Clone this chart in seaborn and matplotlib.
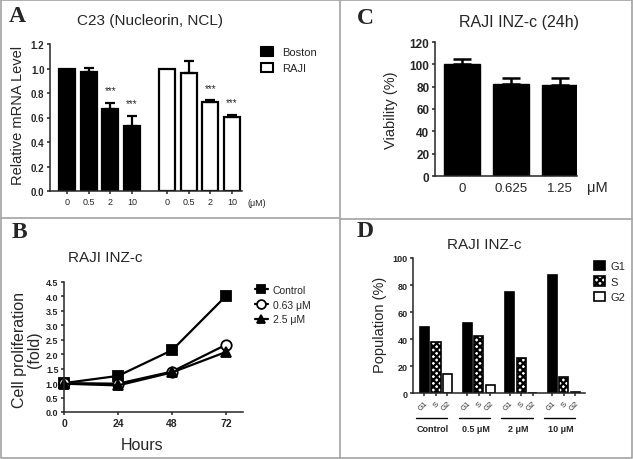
import matplotlib
matplotlib.use('Agg')
import matplotlib.pyplot as plt
import matplotlib.transforms as mtransforms
from matplotlib.lines import Line2D
from matplotlib.patches import Patch
import numpy as np
import pandas as pd
import seaborn as sns

# --- A: C23 relative mRNA ---
conc_a = ['0', '0.5', '2', '10']
cells_a = ['Boston', 'RAJI']
mrna_boston = [1.0, 0.97, 0.67, 0.53]
mrna_boston_err = [0.0, 0.038, 0.05, 0.082]
mrna_raji = [1.0, 0.965, 0.725, 0.605]
mrna_raji_err = [0.0, 0.10, 0.014, 0.013]
sig_a = ['', '', '***', '***']

# --- B: proliferation ---
hours_b = [0, 24, 48, 72]
prolif_control = [1.0, 1.25, 2.14, 4.02]
prolif_063 = [1.0, 0.98, 1.40, 2.33]
prolif_25 = [0.98, 0.92, 1.37, 2.08]
labels_b = ['Control', '0.63 μM', '2.5 μM']

# --- C: viability ---
conc_c = ['0', '0.625', '1.25']
viability = [100.5, 82.0, 81.5]
viability_err = [4.5, 5.5, 6.0]

# --- D: cell cycle ---
groups_d = ['Control', '0.5 μM', '2 μM', '10 μM']
phases_d = ['G1', 'S', 'G2']
pop_g1 = [48.8, 52.3, 74.8, 87.5]
pop_s = [37.8, 42.6, 26.3, 11.8]
pop_g2 = [14.0, 6.0, 0.0, 1.3]

sns.set_style('ticks')
plt.rcParams['font.family'] = ['Liberation Sans', 'DejaVu Sans']
plt.rcParams['axes.linewidth'] = 1.1
plt.rcParams['xtick.major.width'] = 1.1
plt.rcParams['ytick.major.width'] = 1.1
plt.rcParams['xtick.major.size'] = 2.5
plt.rcParams['ytick.major.size'] = 2.5
plt.rcParams['xtick.major.pad'] = 2
plt.rcParams['ytick.major.pad'] = 1.5
plt.rcParams['hatch.linewidth'] = 1.6

W, H = 633, 460
fig = plt.figure(figsize=(W / 100, H / 100), dpi=100)


def box(x0, y0, x1, y1):
    # pixel box (top-left origin) -> figure fraction rect
    return [x0 / W, 1 - y1 / H, (x1 - x0) / W, (y1 - y0) / H]


def ftext(x, y, s, **kw):
    kw.setdefault('ha', 'center')
    kw.setdefault('va', 'center')
    fig.text(x / W, 1 - y / H, s, **kw)


# panel frames
grey = '#a9a9a9'
for xs, ys in [([1, 632, 632, 1, 1], [1, 1, 459, 459, 1]),
               ([340.5, 340.5], [0, 460]),
               ([0, 340.5], [218.5, 218.5]),
               ([340.5, 633], [220, 220])]:
    fig.add_artist(Line2D([x / W for x in xs], [1 - y / H for y in ys],
                          color=grey, lw=1.3))

for letter, (x, y) in zip('ABCD', [(17, 17), (19, 233), (365, 18), (365, 232)]):
    ftext(x, y, letter, family='Liberation Serif', weight='bold', fontsize=17)

# ---------------- A ----------------
axA = fig.add_axes(box(50, 45, 242, 192))
df_a = pd.DataFrame({'cell': [c for c in cells_a for _ in conc_a],
                     'conc': conc_a * 2,
                     'level': mrna_boston + mrna_raji})
sns.barplot(data=df_a, x='cell', y='level', hue='conc', order=cells_a,
            hue_order=conc_a, width=0.87, gap=0.26, palette=['black'] * 4,
            saturation=1, edgecolor='black', linewidth=1.6, errorbar=None,
            legend=False, ax=axA)
err_a = [mrna_boston_err, mrna_raji_err]
centers_a = []
bar_sets_a = list(axA.containers)
for j, cont in enumerate(bar_sets_a):
    for i, bar in enumerate(cont):
        if i == 1:
            bar.set_facecolor('white')
        xc = bar.get_x() + bar.get_width() / 2
        centers_a.append(xc)
        top = bar.get_height()
        e = err_a[i][j]
        if e > 0:
            axA.errorbar(xc, top, yerr=[[0], [e]], fmt='none', ecolor='black',
                         elinewidth=1.6, capsize=3.5, capthick=1.6, zorder=3)
        if sig_a[j]:
            axA.text(xc, top + e + 0.105, sig_a[j], ha='center', va='center',
                     fontsize=7)
centers_a = sorted(centers_a)
axA.set_xticks(centers_a)
axA.set_xticklabels(conc_a + conc_a, fontsize=6.5)
axA.set_xlim(-0.495, 1.425)
axA.set_ylim(0, 1.2)
axA.set_yticks(np.arange(0, 1.21, 0.2))
axA.set_yticklabels([f'{v:.1f}' for v in np.arange(0, 1.21, 0.2)],
                    fontsize=7, weight='bold')
axA.set_xlabel('')
axA.set_ylabel('')
sns.despine(ax=axA)
ftext(257, 204, '(μM)', fontsize=6.5)
ftext(150, 21, 'C23 (Nucleorin, NCL)', fontsize=11)
ftext(18, 115, 'Relative mRNA Level', rotation=90, fontsize=10.5)
fig.legend(handles=[Patch(facecolor='black', edgecolor='black', lw=1.5),
                    Patch(facecolor='white', edgecolor='black', lw=1.5)],
           labels=cells_a, loc='upper left',
           bbox_to_anchor=(261 / W, 1 - 48 / H), frameon=False, fontsize=8,
           handlelength=1.1, handleheight=0.9, handletextpad=0.8,
           labelspacing=0.5, borderpad=0, borderaxespad=0)

# ---------------- B ----------------
axB = fig.add_axes(box(64, 283, 243, 413))
styles_b = [('s', 'black', 6.5), ('o', 'white', 7.5), ('^', 'black', 7)]
for vals, label, (m, fc, ms) in zip([prolif_control, prolif_063, prolif_25],
                                    labels_b, styles_b):
    sns.lineplot(x=hours_b, y=vals, marker=m, markerfacecolor=fc,
                 markeredgecolor='black', markeredgewidth=1.3, markersize=ms,
                 color='black', linewidth=1.6, label=label, clip_on=False,
                 ax=axB)
axB.set_xlim(0, 79.5)
axB.set_ylim(0, 4.5)
axB.set_xticks(hours_b)
axB.set_xticklabels([str(h) for h in hours_b], fontsize=7.5, weight='bold')
yt = np.arange(0, 4.51, 0.5)
axB.set_yticks(yt)
axB.set_yticklabels([f'{v:.1f}' for v in yt], fontsize=6.5, weight='bold')
sns.despine(ax=axB)
axB.legend(loc='upper left', bbox_to_anchor=(255 / W, 1 - 286 / H),
           bbox_transform=fig.transFigure, frameon=False, fontsize=7.5,
           handlelength=1.2, handletextpad=0.5, labelspacing=0.45,
           markerscale=0.85, borderpad=0, borderaxespad=0)
ftext(105, 258, 'RAJI INZ-c', fontsize=11)
ftext(27, 350, 'Cell proliferation\n(fold)', rotation=90, fontsize=11.5,
      linespacing=0.95)
ftext(142, 446, 'Hours', fontsize=11.5)

# ---------------- C ----------------
axC = fig.add_axes(box(435, 43, 577, 177))
sns.barplot(x=conc_c, y=viability, color='black', saturation=1, width=0.72,
            edgecolor='black', errorbar=None, ax=axC)
for bar, e in zip(list(axC.patches), viability_err):
    xc = bar.get_x() + bar.get_width() / 2
    axC.errorbar(xc, bar.get_height(), yerr=[[0], [e]], fmt='none',
                 ecolor='black', elinewidth=1.8, capsize=6.5, capthick=1.8,
                 zorder=3)
axC.set_xlim(-0.55, 2.35)
axC.set_ylim(0, 120)
axC.set_yticks(range(0, 121, 20))
axC.set_yticklabels([str(v) for v in range(0, 121, 20)], fontsize=8.5,
                    weight='bold')
axC.tick_params(axis='x', length=0, labelsize=9.5, pad=4)
sns.despine(ax=axC)
ftext(597, 188, 'μM', fontsize=10.5)
ftext(519, 23, 'RAJI INZ-c (24h)', fontsize=11.5)
ftext(391, 110, 'Viability (%)', rotation=90, fontsize=10.5)

# ---------------- D ----------------
axD = fig.add_axes(box(413, 259, 585, 394.3))
df_d = pd.DataFrame({'group': groups_d * 3,
                     'phase': [p for p in phases_d for _ in groups_d],
                     'pop': pop_g1 + pop_s + pop_g2})
sns.barplot(data=df_d, x='group', y='pop', hue='phase', order=groups_d,
            hue_order=phases_d, width=0.81, gap=0.215,
            palette=['black', 'white', 'white'], saturation=1,
            edgecolor='black', linewidth=1.2, errorbar=None, legend=False,
            ax=axD)
for bar in axD.containers[1]:
    bar.set_hatch('xxxxx')
centers_d = sorted(bar.get_x() + bar.get_width() / 2
                   for cont in axD.containers for bar in cont)
axD.set_xticks(centers_d)
axD.set_xticklabels(phases_d * len(groups_d), fontsize=5.5, rotation=45,
                    ha='right', rotation_mode='anchor')
axD.set_xlim(-0.54, 3.5)
axD.set_ylim(0, 100)
axD.set_yticks(range(0, 101, 20))
axD.set_yticklabels([str(v) for v in range(0, 101, 20)], fontsize=6.5,
                    weight='bold')
axD.set_xlabel('')
axD.set_ylabel('')
sns.despine(ax=axD)
trans = mtransforms.blended_transform_factory(axD.transData, axD.transAxes)
for g, name in enumerate(groups_d):
    axD.plot([g - 0.47, g + 0.27], [-0.183, -0.183], color='black', lw=1.0,
             transform=trans, clip_on=False)
    axD.text(g - 0.07, -0.26, name, transform=trans, ha='center', va='center',
             fontsize=6.5, weight='bold')
fig.legend(handles=[Patch(facecolor='black', edgecolor='black', lw=1.2),
                    Patch(facecolor='white', edgecolor='black', lw=1.2,
                          hatch='xxxxx'),
                    Patch(facecolor='white', edgecolor='black', lw=1.2)],
           labels=phases_d, loc='upper left',
           bbox_to_anchor=(594 / W, 1 - 262 / H), frameon=False, fontsize=8,
           handlelength=1.0, handleheight=0.9, handletextpad=0.5,
           labelspacing=0.45, borderpad=0, borderaxespad=0)
ftext(484, 245, 'RAJI INZ-c', fontsize=11)
ftext(380, 325, 'Population (%)', rotation=90, fontsize=10.5)

fig.savefig('out.png', dpi=100)
